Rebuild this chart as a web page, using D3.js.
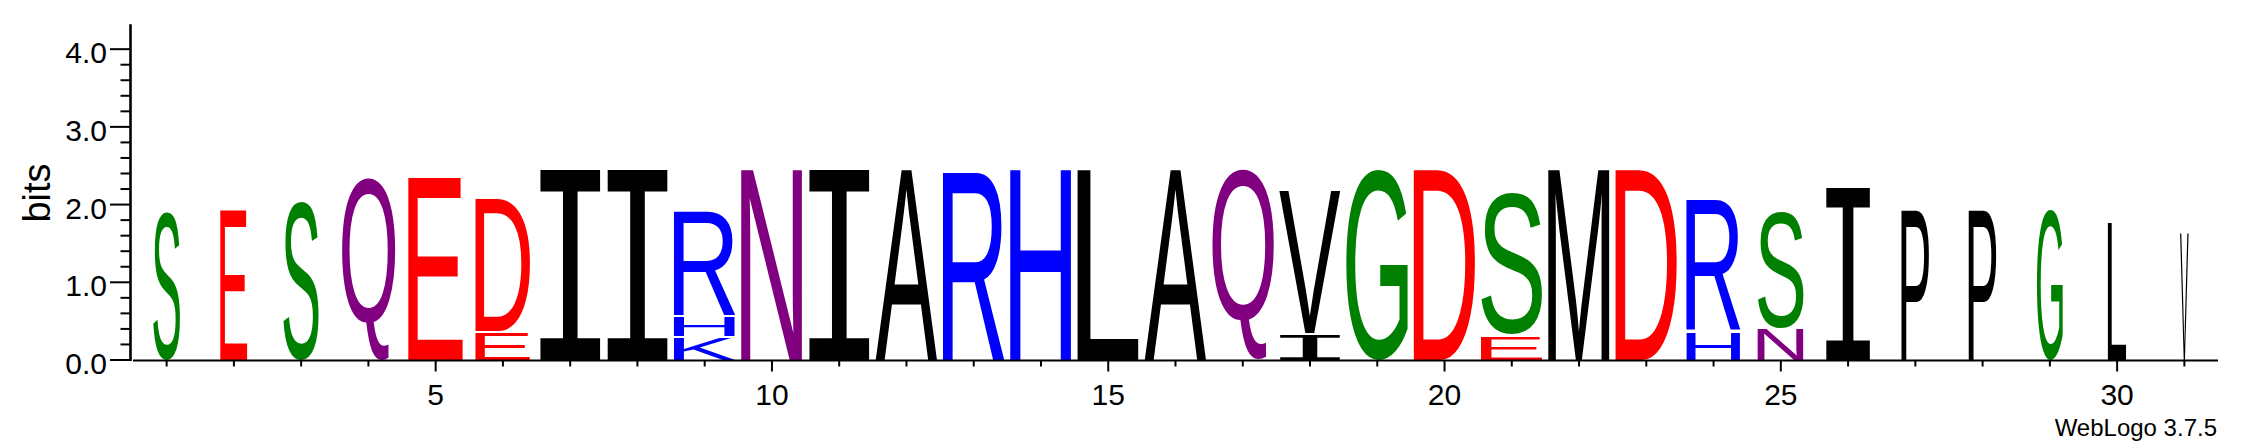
<!DOCTYPE html>
<html>
<head>
<meta charset="utf-8">
<script src="https://cdn.jsdelivr.net/npm/d3@7"></script>
<style>
  html, body { margin: 0; padding: 0; background: #fff; }
  svg { display: block; }
</style>
</head>
<body>
<svg id="chart" width="2243" height="444"></svg>
<script>
// ---- data ----
const positions = [1,2,3,4,5,6,7,8,9,10,11,12,13,14,15,16,17,18,19,20,21,22,23,24,25,26,27,28,29,30,31];
// letters of each stack, bottom to top
const stackLetters = [
  ["S"],["E"],["S"],["Q"],["E"],["E","D"],["I"],["I"],["K","H","R"],["N"],
  ["I"],["A"],["R"],["H"],["L"],["A"],["Q"],["I","V"],["G"],["D"],
  ["E","S"],["M"],["D"],["H","R"],["N","S"],["I"],["P"],["P"],["G"],["L"],["V"]
];
// heights in bits, bottom to top
const stackBits = [
  [1.93],[1.92],[2.07],[2.34],[2.35],[0.34,1.73],[2.45],[2.45],[0.28,0.27,1.38],[2.45],
  [2.45],[2.45],[2.45],[2.45],[2.45],[2.45],[2.45],[0.31,1.87],[2.45],[2.45],
  [0.30,1.88],[2.45],[2.45],[0.35,1.72],[0.39,1.55],[2.22],[1.93],[1.93],[1.93],[1.77],[1.63]
];
// relative stack width (fraction of non-gap sequences)
const stackWidths = [
  0.44,0.44,0.58,0.865,0.89,0.89,1,1,1,1,
  1,1,1,1,1,1,1,1,1,1,
  1,1,1,0.88,0.75,0.73,0.45,0.45,0.42,0.30,0.14
];
const yTickValues = [0,1,2,3,4];
const yTickLabels = ["0.0","1.0","2.0","3.0","4.0"];
const xTickValues = [5,10,15,20,25,30];
const yMax = 4.32;
const footer = "WebLogo 3.7.5";

// ---- colours (chemistry scheme) ----
const colorOf = {
  G:"#008000", S:"#008000", T:"#008000", Y:"#008000", C:"#008000",
  Q:"#800080", N:"#800080",
  K:"#0000ff", R:"#0000ff", H:"#0000ff",
  D:"#ff0000", E:"#ff0000",
  A:"#000000", V:"#000000", L:"#000000", I:"#000000", P:"#000000", W:"#000000", F:"#000000", M:"#000000"
};

const svg = d3.select("#chart");
const x = d3.scaleLinear().domain([0.5, 31.5]).range([133, 2218]);
const y = d3.scaleLinear().domain([0, yMax]).range([360, 24.3]);

// ---- glyph metrics via canvas ----
const ctx = document.createElement("canvas").getContext("2d");
function fontFor(ch) {
  return ch === "I" ? {family:"DejaVu Sans Mono", weight:"normal"} : {family:"Liberation Sans", weight:"normal"};
}
const metrics = {};
function glyphBox(ch) {
  if (metrics[ch]) return metrics[ch];
  const f = fontFor(ch);
  ctx.font = `${f.weight} 100px '${f.family}'`;
  const m = ctx.measureText(ch);
  metrics[ch] = {L: m.actualBoundingBoxLeft, R: m.actualBoundingBoxRight,
                 A: m.actualBoundingBoxAscent, D: m.actualBoundingBoxDescent};
  return metrics[ch];
}

// ---- stacks ----
const colW = x(2) - x(1);
const fullW = colW * 0.92;
const g = svg.append("g").attr("class", "stacks");
positions.forEach((pos, i) => {
  const w = fullW * stackWidths[i];
  const x0 = x(pos) - w / 2;
  let cum = 0;
  stackLetters[i].forEach((ch, j) => {
    const h = stackBits[i][j];
    const yBottom = y(cum) - (j > 0 ? 2.5 : 0);
    const yTop = y(cum + h);
    cum += h;
    const bh = yBottom - yTop;
    if (bh <= 0) return;
    const gb = glyphBox(ch);
    const gw = gb.L + gb.R, gh = gb.A + gb.D;
    const f = fontFor(ch);
    g.append("text")
      .text(ch)
      .attr("font-family", f.family)
      .attr("font-weight", f.weight)
      .attr("font-size", 100)
      .attr("fill", colorOf[ch])
      .attr("transform", `translate(${x0},${yTop}) scale(${w / gw},${bh / gh}) translate(${gb.L},${gb.A})`);
  });
});

// ---- axes ----
const font = "Liberation Sans";
// y axis line
svg.append("line").attr("x1", 130.5).attr("x2", 130.5).attr("y1", y(yMax)).attr("y2", y(0) + 1)
  .attr("stroke", "#000").attr("stroke-width", 2.6);
// y ticks (every 0.2, major at integers)
const yMinor = d3.range(0, 21).map(k => k * 0.2).filter(v => v <= yMax);
svg.append("g").selectAll("line").data(yMinor).join("line")
  .attr("x1", v => Math.abs(v - Math.round(v)) < 1e-6 ? 110 : 120.5)
  .attr("x2", 130.5)
  .attr("y1", v => y(v)).attr("y2", v => y(v))
  .attr("stroke", "#000").attr("stroke-width", 2);
svg.append("g").selectAll("text").data(yTickValues).join("text")
  .attr("x", 107).attr("y", v => y(v) + 14)
  .attr("text-anchor", "end")
  .attr("font-family", font).attr("font-size", 30).attr("fill", "#000")
  .text((v, k) => yTickLabels[k]);
svg.append("text")
  .attr("transform", "translate(50,193) rotate(-90)")
  .attr("text-anchor", "middle")
  .attr("font-family", font).attr("font-size", 38).attr("fill", "#000")
  .text("bits");

// x axis line
svg.append("line").attr("x1", x(0.5)).attr("x2", x(31.5)).attr("y1", 360.5).attr("y2", 360.5)
  .attr("stroke", "#000").attr("stroke-width", 2);
svg.append("g").selectAll("line").data(positions).join("line")
  .attr("x1", p => x(p)).attr("x2", p => x(p))
  .attr("y1", 360.5).attr("y2", p => p % 5 === 0 ? 371.5 : 366.5)
  .attr("stroke", "#000").attr("stroke-width", 2);
svg.append("g").selectAll("text").data(xTickValues).join("text")
  .attr("x", p => x(p)).attr("y", 405)
  .attr("text-anchor", "middle")
  .attr("font-family", font).attr("font-size", 30).attr("fill", "#000")
  .text(p => p);

svg.append("text")
  .attr("x", 2217).attr("y", 436)
  .attr("text-anchor", "end")
  .attr("font-family", font).attr("font-size", 24).attr("fill", "#000")
  .text(footer);
</script>
</body>
</html>
